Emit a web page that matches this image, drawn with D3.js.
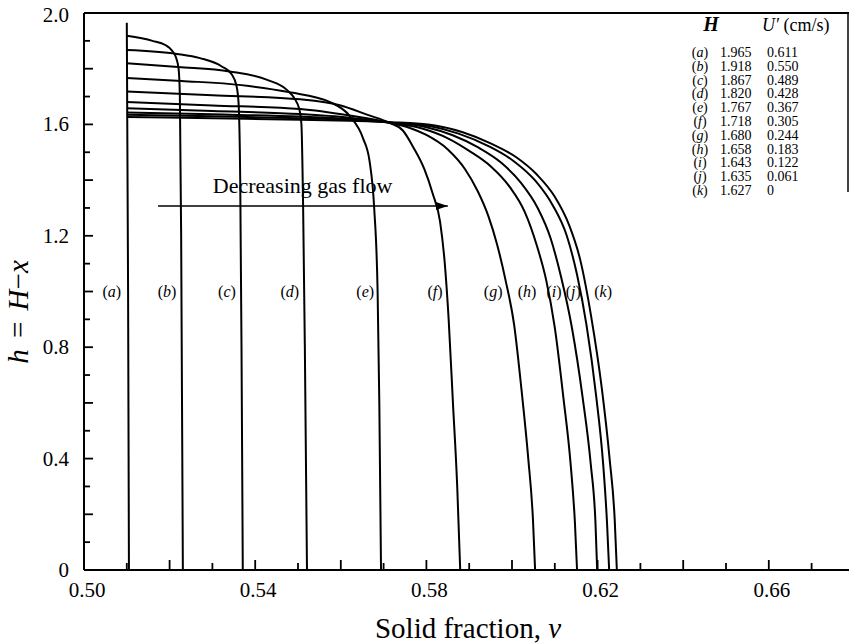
<!DOCTYPE html>
<html>
<head>
<meta charset="utf-8">
<script src="https://cdn.jsdelivr.net/npm/d3@7"></script>
<style>
  html, body { margin: 0; padding: 0; background: #fff; }
  svg { display: block; }
  text { font-family: "Liberation Serif", "Times New Roman", serif; fill: #000; }
</style>
</head>
<body>
<svg id="chart" width="849" height="644"></svg>
<script>
// Profiles of h = H - x against solid fraction for decreasing gas flow, (a)..(k)
const curveIds = ["a", "b", "c", "d", "e", "f", "g", "h", "i", "j", "k"];
const bedHeight = ["1.965", "1.918", "1.867", "1.820", "1.767", "1.718", "1.680", "1.658", "1.643", "1.635", "1.627"];
const gasVelocity = ["0.611", "0.550", "0.489", "0.428", "0.367", "0.305", "0.244", "0.183", "0.122", "0.061", "0"];

// [solid fraction, h] along each profile
const curveA = [[0.5100,1.965],[0.5103,1.0],[0.5105,0]];
const curveB = [[0.5100,1.918],[0.5160,1.900],[0.5190,1.885],[0.5205,1.866],[0.5215,1.840],[0.5221,1.800],[0.5224,1.700],[0.5227,1.200],[0.5231,0]];
const curveC = [[0.5100,1.867],[0.5217,1.853],[0.5271,1.838],[0.5322,1.808],[0.5345,1.780],[0.5356,1.740],[0.5361,1.680],[0.5365,1.400],[0.5368,0.800],[0.5371,0]];
const curveD = [[0.5100,1.820],[0.5220,1.806],[0.5340,1.790],[0.5428,1.760],[0.5474,1.724],[0.5493,1.690],[0.5503,1.655],[0.5508,1.600],[0.5512,1.300],[0.5516,0.800],[0.5521,0]];
const curveE = [[0.5100,1.767],[0.5228,1.756],[0.5368,1.741],[0.5478,1.716],[0.5575,1.680],[0.5621,1.630],[0.5652,1.550],[0.5667,1.470],[0.5678,1.300],[0.5686,1.000],[0.5690,0.600],[0.5694,0]];
const curveF = [[0.5100,1.718],[0.5300,1.705],[0.5505,1.690],[0.5600,1.668],[0.5661,1.635],[0.5715,1.605],[0.5745,1.578],[0.5769,1.519],[0.5795,1.440],[0.5815,1.350],[0.5832,1.250],[0.5843,1.100],[0.5852,0.900],[0.5862,0.600],[0.5872,0.300],[0.5879,0]];
const curveG = [[0.5100,1.680],[0.5300,1.668],[0.5505,1.655],[0.5620,1.632],[0.5715,1.606],[0.5760,1.588],[0.5800,1.562],[0.5850,1.510],[0.5890,1.440],[0.5920,1.360],[0.5945,1.270],[0.5965,1.170],[0.5985,1.040],[0.6005,0.880],[0.6022,0.650],[0.6038,0.400],[0.6049,0.180],[0.6054,0]];
const curveH = [[0.5100,1.658],[0.5300,1.648],[0.5505,1.637],[0.5620,1.624],[0.5715,1.606],[0.5790,1.585],[0.5850,1.550],[0.5900,1.505],[0.5950,1.450],[0.5995,1.375],[0.6030,1.285],[0.6058,1.165],[0.6080,1.040],[0.6100,0.870],[0.6120,0.620],[0.6137,0.380],[0.6147,0.170],[0.6152,0]];
const curveI = [[0.5100,1.643],[0.5300,1.636],[0.5505,1.628],[0.5620,1.620],[0.5715,1.607],[0.5800,1.590],[0.5860,1.562],[0.5920,1.518],[0.5975,1.462],[0.6020,1.392],[0.6060,1.300],[0.6090,1.192],[0.6115,1.050],[0.6140,0.870],[0.6165,0.620],[0.6184,0.380],[0.6195,0.170],[0.6199,0]];
const curveJ = [[0.5100,1.635],[0.5300,1.629],[0.5505,1.622],[0.5620,1.616],[0.5715,1.607],[0.5810,1.593],[0.5875,1.567],[0.5945,1.522],[0.6005,1.467],[0.6055,1.397],[0.6095,1.310],[0.6128,1.200],[0.6152,1.060],[0.6174,0.880],[0.6197,0.620],[0.6213,0.380],[0.6222,0.170],[0.6227,0]];
const curveK = [[0.5100,1.627],[0.5300,1.622],[0.5505,1.617],[0.5620,1.613],[0.5715,1.608],[0.5820,1.596],[0.5885,1.572],[0.5950,1.532],[0.6010,1.482],[0.6058,1.420],[0.6100,1.340],[0.6133,1.240],[0.6160,1.110],[0.6185,0.910],[0.6210,0.650],[0.6228,0.400],[0.6240,0.180],[0.6245,0]];
const curves = [curveA, curveB, curveC, curveD, curveE, curveF, curveG, curveH, curveI, curveJ, curveK];

// where each curve's letter sits (solid fraction of label centre, h)
const labelNu = [0.5065, 0.5194, 0.5334, 0.5481, 0.5657, 0.5820, 0.5956, 0.6035, 0.6098, 0.6143, 0.6213];
const labelH = 0.98;

// axis ticks
const xTickLabels = [0.50, 0.54, 0.58, 0.62, 0.66];
const yTickLabels = [0, 0.4, 0.8, 1.2, 1.6, 2.0];
const xMinor = d3.range(51, 68).map(v => v / 100);
const yMinor = d3.range(1, 20).map(v => v / 10);

// arrow annotation
const arrowFrom = [0.5173, 1.307];
const arrowTo = [0.5850, 1.307];
const arrowText = "Decreasing gas flow";

const svg = d3.select("#chart");
const plotL = 84, plotR = 848, plotT = 13, plotB = 570;
const x = d3.scaleLinear().domain([0.50, 0.50 + (plotR - plotL) / 4280]).range([plotL, plotR]);
const y = d3.scaleLinear().domain([0, 2.0]).range([plotB, plotT]);

// frame
svg.append("line").attr("x1", plotL).attr("x2", plotL).attr("y1", plotT).attr("y2", plotB)
  .attr("stroke", "#000").attr("stroke-width", 2);
svg.append("line").attr("x1", plotL).attr("x2", plotR + 1).attr("y1", plotB).attr("y2", plotB)
  .attr("stroke", "#000").attr("stroke-width", 2);
svg.append("line").attr("x1", plotL).attr("x2", plotR + 1).attr("y1", plotT).attr("y2", plotT)
  .attr("stroke", "#000").attr("stroke-width", 2);
svg.append("line").attr("x1", plotR).attr("x2", plotR).attr("y1", plotT).attr("y2", 192)
  .attr("stroke", "#000").attr("stroke-width", 1.5);

// inward ticks
const isMajor = v => Math.abs(Math.round(v * 100) % 2) === 0;
svg.append("g").selectAll("line").data(xMinor).join("line")
  .attr("x1", d => x(d)).attr("x2", d => x(d))
  .attr("y1", plotB).attr("y2", d => plotB - (isMajor(d) ? 10 : 7))
  .attr("stroke", "#000").attr("stroke-width", 1.8);
svg.append("g").selectAll("line").data(yMinor).join("line")
  .attr("x1", plotL).attr("x2", d => plotL + (Math.round(d * 10) % 2 === 0 ? 9 : 6))
  .attr("y1", d => y(d)).attr("y2", d => y(d))
  .attr("stroke", "#000").attr("stroke-width", 1.8);

// tick labels
svg.append("g").selectAll("text").data(xTickLabels).join("text")
  .attr("x", d => x(d) + 3).attr("y", 597)
  .attr("text-anchor", "middle").attr("font-size", 21)
  .text(d => d3.format(".2f")(d));
svg.append("g").selectAll("text").data(yTickLabels).join("text")
  .attr("x", 69).attr("y", d => y(d) + 7 + (d === 2.0 ? 2 : 0))
  .attr("text-anchor", "end").attr("font-size", 21)
  .text(d => d === 0 ? "0" : d3.format(".1f")(d));

// axis titles
const xt = svg.append("text").attr("x", 468).attr("y", 638)
  .attr("text-anchor", "middle").attr("font-size", 29);
xt.append("tspan").text("Solid fraction, ");
xt.append("tspan").attr("font-style", "italic").text("ν");

const yt = svg.append("text").attr("transform", "translate(28,312) rotate(-90)")
  .attr("text-anchor", "middle").attr("font-size", 29).attr("word-spacing", 4);
yt.append("tspan").attr("font-style", "italic").text("h");
yt.append("tspan").text(" = ");
yt.append("tspan").attr("font-style", "italic").text("H");
yt.append("tspan").text("−");
yt.append("tspan").attr("font-style", "italic").text("x");

// profiles
const line = d3.line().x(d => x(d[0])).y(d => y(d[1])).curve(d3.curveMonotoneX);
svg.append("g").selectAll("path").data(curves).join("path")
  .attr("d", line).attr("fill", "none").attr("stroke", "#000")
  .attr("stroke-width", 2).attr("stroke-linejoin", "round");

// curve letters
const lab = svg.append("g").selectAll("text").data(curveIds).join("text")
  .attr("x", (d, i) => x(labelNu[i])).attr("y", y(labelH))
  .attr("text-anchor", "middle").attr("font-size", 16);
lab.append("tspan").text("(");
lab.append("tspan").attr("font-style", "italic").text(d => d);
lab.append("tspan").text(")");

// arrow
svg.append("defs").append("marker").attr("id", "head")
  .attr("viewBox", "0 0 12 8").attr("refX", 12).attr("refY", 4)
  .attr("markerWidth", 12).attr("markerHeight", 8).attr("markerUnits", "userSpaceOnUse")
  .attr("orient", "auto")
  .append("path").attr("d", "M0,0 L12,4 L0,8 Z").attr("fill", "#000");
svg.append("line")
  .attr("x1", x(arrowFrom[0])).attr("y1", y(arrowFrom[1]))
  .attr("x2", x(arrowTo[0])).attr("y2", y(arrowTo[1]))
  .attr("stroke", "#000").attr("stroke-width", 1.6).attr("marker-end", "url(#head)");
svg.append("text").attr("x", x(0.5301)).attr("y", y(1.355))
  .attr("font-size", 22).text(arrowText);

// table of H and U'
const tbl = svg.append("g");
tbl.append("text").attr("x", 711).attr("y", 31).attr("text-anchor", "middle")
  .attr("font-size", 20).attr("font-weight", "bold").attr("font-style", "italic").text("H");
const uh = tbl.append("text").attr("x", 762).attr("y", 31).attr("font-size", 18);
uh.append("tspan").attr("font-style", "italic").text("U′");
uh.append("tspan").text(" (cm/s)");

const rowY = i => 57 + i * 13.8;
const rl = tbl.selectAll("text.rl").data(curveIds).join("text").attr("class", "rl")
  .attr("x", 700).attr("y", (d, i) => rowY(i)).attr("text-anchor", "middle").attr("font-size", 14);
rl.append("tspan").text("(");
rl.append("tspan").attr("font-style", "italic").text(d => d);
rl.append("tspan").text(")");
tbl.selectAll("text.rh").data(bedHeight).join("text").attr("class", "rh")
  .attr("x", 720).attr("y", (d, i) => rowY(i)).attr("font-size", 14).text(d => d);
tbl.selectAll("text.ru").data(gasVelocity).join("text").attr("class", "ru")
  .attr("x", 767).attr("y", (d, i) => rowY(i)).attr("font-size", 14).text(d => d);
</script>
</body>
</html>
